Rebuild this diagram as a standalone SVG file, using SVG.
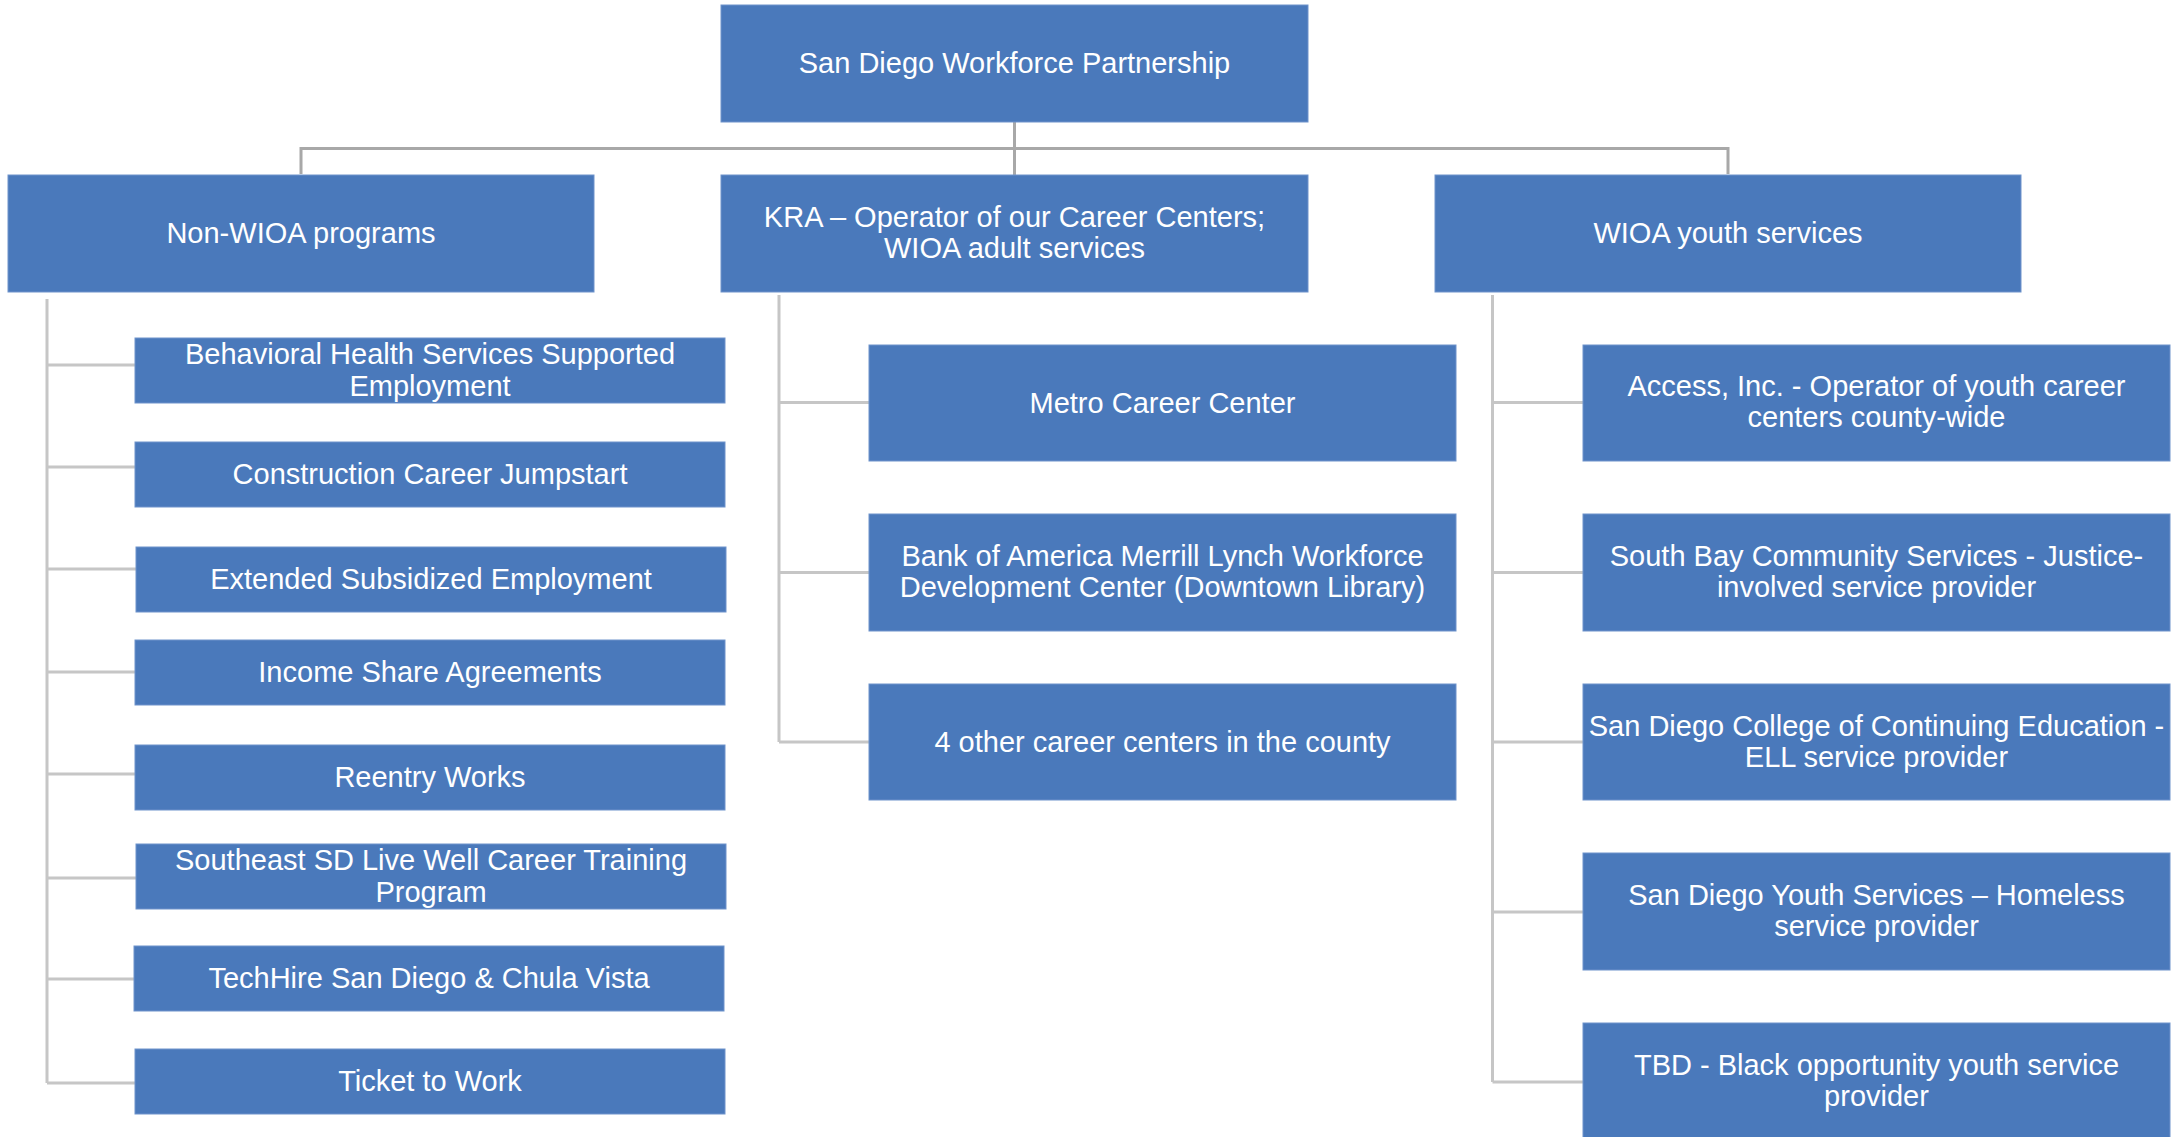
<svg xmlns="http://www.w3.org/2000/svg" width="2172" height="1137" viewBox="0 0 2172 1137">
<style>
.box{fill:#4A79BB;stroke:#6E93CB;stroke-width:1}
.t{font-family:"Liberation Sans",Arial,sans-serif;font-size:29px;fill:#FFFFFF;text-anchor:middle}
.c{fill:none;stroke:#C6C6C6;stroke-width:3}
.bus{fill:none;stroke:#A8A8A8;stroke-width:3}
</style>
<rect width="2172" height="1137" fill="#FFFFFF"/>
<g id="connectors">
<path class="bus" d="M1014.5 122V175M301 174V148.5H1728V174"/>
<path class="c" d="M47 299V1083M47 365H135M47 467H135M47 569H136M47 672H135M47 774H135M47 878H136M47 979H134M47 1083H135"/>
<path class="c" d="M779 295V742M779 402.5H869M779 572.5H869M779 742H869"/>
<path class="c" d="M1492.5 295V1082M1492.5 402.5H1583M1492.5 572.5H1583M1492.5 742H1583M1492.5 912H1583M1492.5 1082H1583"/>
</g>
<g id="root"><rect class="box" x="721" y="5" width="587" height="117"/><text class="t" x="1014.5" y="73">San Diego Workforce Partnership</text></g>
<g id="nonwioa"><rect class="box" x="8" y="175" width="586" height="117"/><text class="t" x="301" y="243">Non-WIOA programs</text></g>
<g id="kra"><rect class="box" x="721" y="175" width="587" height="117"/><text class="t" x="1014.5" y="227">KRA – Operator of our Career Centers;</text><text class="t" x="1014.5" y="258">WIOA adult services</text></g>
<g id="wioayouth"><rect class="box" x="1435" y="175" width="586" height="117"/><text class="t" x="1728" y="243">WIOA youth services</text></g>
<g id="behavioral"><rect class="box" x="135" y="338" width="590" height="65"/><text class="t" x="430" y="364">Behavioral Health Services Supported</text><text class="t" x="430" y="396">Employment</text></g>
<g id="construction"><rect class="box" x="135" y="442" width="590" height="65"/><text class="t" x="430" y="484">Construction Career Jumpstart</text></g>
<g id="extended"><rect class="box" x="136" y="547" width="590" height="65"/><text class="t" x="431" y="589">Extended Subsidized Employment</text></g>
<g id="income"><rect class="box" x="135" y="640" width="590" height="65"/><text class="t" x="430" y="682">Income Share Agreements</text></g>
<g id="reentry"><rect class="box" x="135" y="745" width="590" height="65"/><text class="t" x="430" y="787">Reentry Works</text></g>
<g id="southeast"><rect class="box" x="136" y="844" width="590" height="65"/><text class="t" x="431" y="870">Southeast SD Live Well Career Training</text><text class="t" x="431" y="902">Program</text></g>
<g id="techhire"><rect class="box" x="134" y="946" width="590" height="65"/><text class="t" x="429" y="988">TechHire San Diego &amp; Chula Vista</text></g>
<g id="ticket"><rect class="box" x="135" y="1049" width="590" height="65"/><text class="t" x="430" y="1091">Ticket to Work</text></g>
<g id="metro"><rect class="box" x="869" y="345" width="587" height="116"/><text class="t" x="1162.5" y="413">Metro Career Center</text></g>
<g id="bank"><rect class="box" x="869" y="514" width="587" height="117"/><text class="t" x="1162.5" y="566">Bank of America Merrill Lynch Workforce</text><text class="t" x="1162.5" y="597">Development Center (Downtown Library)</text></g>
<g id="other"><rect class="box" x="869" y="684" width="587" height="116"/><text class="t" x="1162.5" y="752">4 other career centers in the county</text></g>
<g id="access"><rect class="box" x="1583" y="345" width="587" height="116"/><text class="t" x="1876.5" y="396">Access, Inc. - Operator of youth career</text><text class="t" x="1876.5" y="427">centers county-wide</text></g>
<g id="southbay"><rect class="box" x="1583" y="514" width="587" height="117"/><text class="t" x="1876.5" y="566">South Bay Community Services - Justice-</text><text class="t" x="1876.5" y="597">involved service provider</text></g>
<g id="sdcce"><rect class="box" x="1583" y="684" width="587" height="116"/><text class="t" x="1876.5" y="736">San Diego College of Continuing Education -</text><text class="t" x="1876.5" y="767">ELL service provider</text></g>
<g id="sdys"><rect class="box" x="1583" y="853" width="587" height="117"/><text class="t" x="1876.5" y="905">San Diego Youth Services – Homeless</text><text class="t" x="1876.5" y="936">service provider</text></g>
<g id="tbd"><rect class="box" x="1583" y="1023" width="587" height="120"/><text class="t" x="1876.5" y="1075">TBD - Black opportunity youth service</text><text class="t" x="1876.5" y="1106">provider</text></g>
</svg>
